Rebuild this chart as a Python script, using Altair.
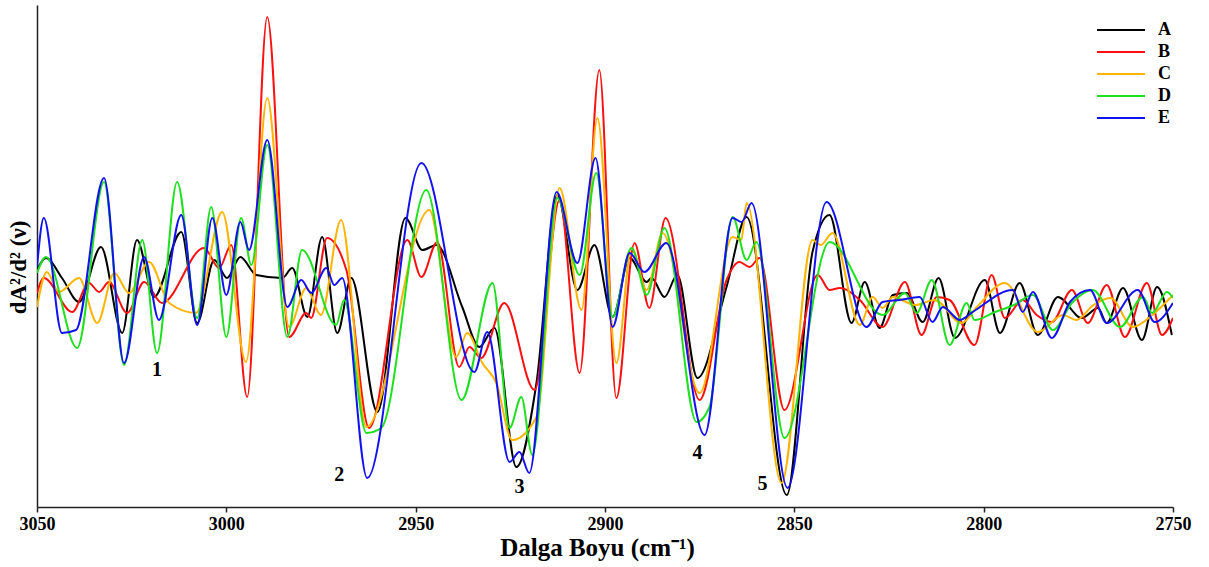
import altair as alt
import pandas as pd

# Second-derivative FTIR spectra, 3050-2750 cm-1, five samples (arbitrary units)
A_wn = [3050.0, 3047.6, 3043.4, 3038.9, 3033.1, 3027.5, 3023.6, 3019.1, 3011.9, 3007.7,
        3003.2, 2999.8, 2996.3, 2992.1, 2985.2, 2982.6, 2978.6, 2974.7, 2970.7, 2967.0,
        2960.1, 2952.7, 2948.2, 2944.5, 2937.7, 2933.2, 2929.2, 2923.4, 2918.1, 2912.6,
        2907.3, 2902.8, 2898.0, 2893.5, 2889.0, 2887.7, 2884.3, 2880.9, 2875.6, 2867.9,
        2862.6, 2852.0, 2845.2, 2840.7, 2834.9, 2831.4, 2827.5, 2824.0, 2820.3, 2816.1,
        2811.9, 2807.6, 2799.7, 2795.7, 2790.5, 2785.7, 2780.4, 2774.1, 2769.8, 2767.5,
        2763.2, 2758.2, 2754.2, 2750.3]
A_val = [2.0, 3.2, 1.2, -1.2, 4.3, -4.3, 5.0, -0.7, 5.8, -3.3,
         3.0, 1.2, 3.3, 1.5, 1.2, 2.2, -2.7, 5.3, -4.3, 1.2,
         -12.2, 7.2, 4.0, 4.5, -1.7, -5.7, -3.8, -17.7, -9.3, 9.5,
         0.0, 4.5, -2.7, 3.2, 0.8, 1.2, -0.7, 1.5, -8.8, 0.3,
         7.3, -20.5, 3.8, 7.5, -3.3, 0.8, -3.8, -0.5, -0.3, -3.2,
         1.2, -4.8, 1.0, -4.3, 0.7, -4.5, -0.7, -2.8, -1.8, -3.3,
         0.2, -5.0, 0.3, -4.5]

B_wn = [3050.0, 3048.2, 3040.7, 3036.3, 3033.6, 3031.0, 3026.2, 3021.7, 3017.0, 3005.9,
        3001.9, 2998.7, 2994.5, 2989.2, 2983.4, 2978.9, 2977.6, 2973.4, 2968.3, 2962.3,
        2952.2, 2948.5, 2944.3, 2938.5, 2935.8, 2932.7, 2926.6, 2918.6, 2912.0, 2906.7,
        2901.5, 2897.0, 2892.2, 2888.3, 2884.0, 2875.0, 2867.9, 2864.5, 2861.8, 2859.2,
        2852.6, 2843.8, 2840.7, 2838.0, 2832.7, 2826.7, 2820.8, 2816.4, 2812.4, 2809.0,
        2802.4, 2797.9, 2794.4, 2789.7, 2786.0, 2782.0, 2776.7, 2772.5, 2767.5, 2762.7,
        2756.9, 2752.9, 2750.0]
B_val = [-0.3, 1.2, -2.2, 0.7, -0.2, 0.8, -2.3, 0.8, -1.3, 4.2,
         2.2, 4.5, -10.7, 27.3, -4.7, -2.3, -2.8, 5.2, 2.0, -13.8,
         5.0, 1.3, 4.8, -7.7, -5.7, -6.8, -1.3, -10.0, 9.0, -8.3,
         22.0, -10.8, 4.7, -1.8, 7.2, -11.0, 1.0, 2.8, 2.3, 3.2,
         -12.0, 1.5, 0.0, 0.2, -1.0, -3.7, 0.8, -4.5, -0.7, -1.0,
         -5.5, 1.5, -2.8, -1.0, -2.5, -3.2, 0.0, -3.3, 0.5, -4.7,
         0.7, -4.5, -2.8]

C_wn = [3050.0, 3047.4, 3044.2, 3038.9, 3034.1, 3029.6, 3025.7, 3020.4, 3015.1, 3008.0,
        3001.1, 2994.8, 2989.2, 2983.4, 2978.9, 2975.0, 2969.7, 2963.0, 2946.4, 2939.3,
        2936.4, 2932.4, 2928.7, 2924.5, 2918.1, 2912.0, 2906.2, 2902.0, 2897.0, 2893.0,
        2889.0, 2884.8, 2875.0, 2866.3, 2864.0, 2862.6, 2853.4, 2845.2, 2843.0, 2839.9,
        2832.7, 2829.3, 2826.7, 2824.0, 2818.0, 2813.0, 2805.8, 2801.8, 2794.4, 2785.7,
        2779.0, 2775.5, 2771.0, 2766.5, 2760.6, 2755.5, 2750.0]
C_val = [-1.7, 1.8, -0.2, 1.2, -3.3, 1.7, -0.3, 2.8, -1.3, -2.3,
         7.8, -7.2, 19.2, -3.7, 0.2, -2.5, 7.0, -13.7, 8.0, -6.7,
         -4.3, -7.3, -9.3, -15.0, -12.7, 10.2, -2.0, 17.2, -7.3, 4.2,
         0.0, 5.7, -10.3, 5.3, 5.0, 8.7, -19.3, 5.0, 4.5, 5.7,
         -3.5, -0.7, -1.8, -0.7, -1.5, -1.0, -3.3, -1.7, 0.7, -4.2,
         -2.5, -3.0, -1.5, -0.8, -3.7, -2.5, -0.5]

D_wn = [3050.0, 3047.6, 3039.4, 3032.3, 3027.0, 3022.2, 3018.3, 3013.0, 3007.7, 3004.0,
        3000.0, 2996.1, 2993.4, 2989.2, 2983.9, 2980.0, 2971.0, 2968.9, 2963.0, 2959.1,
        2947.2, 2937.9, 2929.7, 2925.2, 2922.1, 2919.2, 2912.6, 2906.7, 2902.3, 2898.0,
        2893.0, 2889.0, 2884.3, 2875.8, 2872.4, 2866.3, 2862.6, 2860.0, 2852.6, 2840.7,
        2826.7, 2820.8, 2817.7, 2813.7, 2809.0, 2804.5, 2802.4, 2797.0, 2792.0, 2787.0,
        2781.7, 2776.7, 2771.2, 2764.0, 2757.9, 2755.5, 2751.6, 2750.0]
D_val = [1.7, 3.3, -5.8, 10.8, -7.5, 5.0, -6.3, 10.8, -2.8, 8.3,
         -4.7, 7.2, 2.5, 14.5, -4.7, 4.0, -3.5, -1.0, -14.3, -13.8,
         10.0, -11.0, 0.7, -13.8, -10.7, -16.5, 9.2, 1.5, 11.7, -2.7,
         4.2, -0.5, 6.2, -13.2, -11.7, 7.3, 3.0, 4.8, -14.8, 4.8,
         -2.5, -0.3, -2.3, 1.0, -5.5, -1.3, -3.0, -2.2, -1.5, -0.5,
         -4.0, -1.3, 0.0, -3.7, -0.7, -2.3, -0.2, -0.8]

E_wn = [3050.0, 3048.2, 3043.4, 3039.7, 3032.3, 3027.0, 3021.7, 3017.8, 3011.9, 3007.7,
        3003.7, 3000.0, 2996.3, 2994.0, 2989.2, 2983.9, 2980.2, 2977.6, 2973.6, 2971.5,
        2969.4, 2962.8, 2948.5, 2934.5, 2931.1, 2925.2, 2922.6, 2920.0, 2912.8, 2907.3,
        2902.5, 2898.0, 2893.5, 2889.6, 2883.8, 2873.7, 2866.3, 2863.9, 2861.3, 2851.8,
        2841.5, 2830.9, 2826.7, 2822.2, 2816.9, 2813.5, 2810.8, 2806.3, 2802.9, 2792.3,
        2789.7, 2787.0, 2782.0, 2777.2, 2771.9, 2767.5, 2759.3, 2754.8, 2750.0]
E_val = [2.3, 7.2, -4.3, -4.0, 11.2, -7.3, 3.3, -3.0, 7.5, -3.5,
         7.2, -0.5, 6.8, 4.0, 15.0, -1.7, 1.0, -0.3, 2.2, 0.5,
         1.2, -18.8, 12.7, -8.2, -4.2, -17.2, -16.2, -18.3, 9.8, 2.7,
         13.2, -3.7, 3.7, 1.8, 4.7, -14.5, 7.2, 6.8, 8.7, -19.8,
         8.8, -3.7, -1.2, -1.0, -0.7, -3.2, -1.7, -3.0, -2.2, 0.0,
         -2.2, -0.2, -4.8, -1.2, 0.0, -3.3, 0.0, -3.2, -1.3]

series_names = ["A", "B", "C", "D", "E"]
series_colors = ["#000000", "#ff1010", "#ffb400", "#1ee01e", "#1212f0"]

# Band labels
band_labels = ["1", "2", "3", "4", "5"]
band_wn = [3018.3, 2970.2, 2922.6, 2875.6, 2858.4]
band_val = [-8.0, -18.5, -19.7, -16.3, -19.4]

x_ticks = [3050, 3000, 2950, 2900, 2850, 2800, 2750]

frames = []
for name, wn, val in [("A", A_wn, A_val), ("B", B_wn, B_val), ("C", C_wn, C_val),
                      ("D", D_wn, D_val), ("E", E_wn, E_val)]:
    frames.append(pd.DataFrame({"wn": wn, "val": val, "series": name}))
spectra = pd.concat(frames, ignore_index=True)
bands = pd.DataFrame({"wn": band_wn, "val": band_val, "label": band_labels})

SERIF = "Liberation Serif"

x_scale = alt.Scale(domain=[2750, 3050], reverse=True, nice=False, zero=False)
y_scale = alt.Scale(domain=[-21.7, 28.5], nice=False, zero=False)

lines = alt.Chart(spectra).mark_line(
    interpolate="monotone", strokeWidth=2, clip=True
).encode(
    x=alt.X("wn:Q", scale=x_scale,
            axis=alt.Axis(values=x_ticks, format="d", title="Dalga Boyu (cm⁻¹)",
                          grid=False, domainColor="#222222", domainWidth=1.5,
                          tickColor="#222222", tickSize=5, tickWidth=1.5,
                          labelFont=SERIF, labelFontSize=18, labelFontWeight="bold",
                          labelColor="#000000", labelPadding=3, labelFlush=False,
                          titleFont=SERIF, titleFontSize=25, titleFontWeight="bold",
                          titleColor="#000000", titlePadding=2, titleX=560)),
    y=alt.Y("val:Q", scale=y_scale,
            axis=alt.Axis(labels=False, ticks=False, grid=False, title="dA²/d² (ν)",
                          domainColor="#222222", domainWidth=1.5,
                          titleFont=SERIF, titleFontSize=23, titleFontWeight="bold",
                          titleColor="#000000", titlePadding=7, titleY=262)),
    color=alt.Color("series:N",
                    scale=alt.Scale(domain=series_names, range=series_colors),
                    legend=alt.Legend(title=None, orient="none", legendX=1075, legendY=16,
                                      symbolType="M-4,0H4", symbolSize=144,
                                      symbolStrokeWidth=2, padding=0, rowPadding=4,
                                      labelFont=SERIF, labelFontSize=18,
                                      labelFontWeight="bold", labelColor="#000000",
                                      labelOffset=28)),
    order=alt.Order("wn:Q", sort="descending"),
)

labels = alt.Chart(bands).mark_text(
    font=SERIF, fontSize=20, fontWeight="bold", color="#000000",
    align="center", baseline="middle"
).encode(
    x=alt.X("wn:Q", scale=x_scale),
    y=alt.Y("val:Q", scale=y_scale),
    text="label:N",
)

chart = alt.layer(lines, labels).properties(
    width=1136, height=502,
    padding={"left": 37, "top": 5, "right": 36, "bottom": 60},
    autosize=alt.AutoSizeParams(type="none"),
    background="#ffffff",
).configure_view(stroke=None)

chart.save("out.html", embed_options={"renderer": "svg", "actions": False})
